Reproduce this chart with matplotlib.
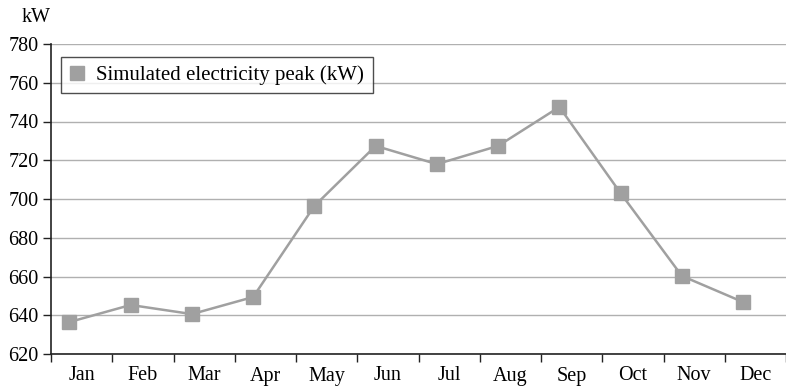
import numpy as np
import matplotlib.pyplot as plt

months = ["Jan", "Feb", "Mar", "Apr", "May", "Jun", "Jul", "Aug", "Sep", "Oct", "Nov", "Dec"]
peak_kw = [636.5, 645.3, 640.6, 649.4, 696.4, 727.4, 718.0, 727.4, 747.5, 703.0, 660.3, 646.8]

plt.rcParams["font.family"] = ["Liberation Serif", "DejaVu Serif"]
plt.rcParams["font.size"] = 14.5

fig = plt.figure(figsize=(7.86, 3.89), dpi=100)
ax = fig.add_axes([51/786, 35/389, 735/786, 310/389])

x = np.arange(len(months))
ax.plot(x - 0.2, peak_kw, color="#a0a0a0", lw=1.8, marker="s", ms=9.5,
        label="Simulated electricity peak (kW)", zorder=3)

ax.set_ylim(620, 780)
ax.set_yticks(np.arange(620, 781, 20))
ax.set_xlim(-0.5, -0.5 + 735/61.6)
ax.set_xticks(x)
ax.set_xticklabels(months)
ax.set_xticks(np.arange(-0.5, 12, 1), minor=True)
ax.tick_params(axis="x", which="major", length=0, pad=9)
ax.tick_params(axis="x", which="minor", length=6, width=1, color="#222222")
ax.tick_params(axis="y", length=6, width=1, color="#222222", pad=3)

ax.grid(axis="y", color="#b0b0b0", lw=1)
ax.set_axisbelow(True)
for s in ["top", "right"]:
    ax.spines[s].set_visible(False)
for s in ["left", "bottom"]:
    ax.spines[s].set_color("#222222")
    ax.spines[s].set_linewidth(1.2)

fig.text(22/786, 1 - 17/389, "kW", ha="left", va="center", fontsize=14.5)

leg = ax.legend(loc="upper left", bbox_to_anchor=(10/735, 1 - 13/310), borderaxespad=0,
                frameon=True, fancybox=False, edgecolor="#222222", handlelength=0.7,
                handletextpad=0.6, borderpad=0.4, fontsize=15)
leg.get_frame().set_linewidth(1)
leg.legend_handles[0].set_linestyle("none")

fig.savefig("out.png", dpi=100)
plt.close()
